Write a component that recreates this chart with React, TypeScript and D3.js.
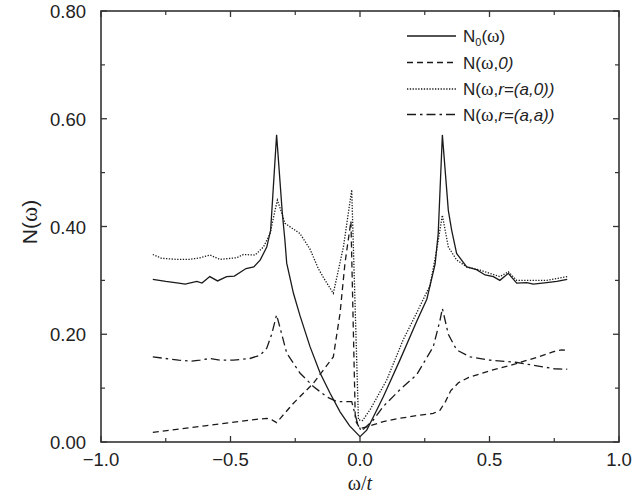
import { line, scaleLinear } from "d3";

// N0(ω) — bare density of states
const n0Omega = [-0.8, -0.75, -0.7, -0.675, -0.63, -0.61, -0.58, -0.55, -0.515, -0.485, -0.44, -0.41, -0.385, -0.36, -0.345, -0.322, -0.3, -0.29, -0.283, -0.257, -0.232, -0.193, -0.154, -0.115, -0.077, -0.04, 0, 0.026, 0.05, 0.09, 0.154, 0.22, 0.258, 0.29, 0.302, 0.318, 0.341, 0.354, 0.373, 0.412, 0.45, 0.483, 0.515, 0.54, 0.573, 0.605, 0.644, 0.669, 0.721, 0.76, 0.8];
const n0Values = [0.302, 0.298, 0.295, 0.293, 0.298, 0.295, 0.307, 0.299, 0.307, 0.308, 0.322, 0.325, 0.338, 0.362, 0.393, 0.57, 0.425, 0.375, 0.332, 0.276, 0.235, 0.177, 0.128, 0.09, 0.056, 0.03, 0.01, 0.022, 0.045, 0.084, 0.152, 0.225, 0.265, 0.33, 0.387, 0.57, 0.43, 0.393, 0.35, 0.325, 0.32, 0.31, 0.307, 0.3, 0.313, 0.295, 0.296, 0.293, 0.296, 0.298, 0.302];

// N(ω,0)
const onsiteOmega = [-0.8, -0.7, -0.6, -0.5, -0.4, -0.36, -0.34, -0.322, -0.257, -0.18, -0.103, -0.077, -0.058, -0.035, -0.018, 0, 0.026, 0.09, 0.154, 0.232, 0.283, 0.309, 0.33, 0.35, 0.38, 0.42, 0.5, 0.6, 0.682, 0.75, 0.779, 0.8];
const onsiteValues = [0.018, 0.024, 0.03, 0.036, 0.042, 0.044, 0.041, 0.036, 0.072, 0.109, 0.158, 0.239, 0.332, 0.41, 0.04, 0.025, 0.028, 0.038, 0.044, 0.05, 0.053, 0.059, 0.075, 0.095, 0.11, 0.12, 0.132, 0.145, 0.157, 0.168, 0.171, 0.17];

// N(ω,r=(a,0))
const axialOmega = [-0.8, -0.766, -0.708, -0.656, -0.618, -0.579, -0.541, -0.476, -0.45, -0.405, -0.373, -0.347, -0.328, -0.319, -0.302, -0.29, -0.232, -0.193, -0.161, -0.141, -0.103, -0.064, -0.032, -0.006, 0.01, 0.039, 0.103, 0.167, 0.219, 0.27, 0.296, 0.318, 0.341, 0.373, 0.412, 0.463, 0.502, 0.54, 0.573, 0.605, 0.656, 0.721, 0.8];
const axialValues = [0.348, 0.341, 0.339, 0.339, 0.342, 0.347, 0.339, 0.342, 0.348, 0.347, 0.362, 0.387, 0.43, 0.449, 0.425, 0.406, 0.387, 0.358, 0.322, 0.305, 0.276, 0.362, 0.468, 0.041, 0.04, 0.06, 0.115, 0.19, 0.24, 0.29, 0.356, 0.421, 0.362, 0.338, 0.325, 0.319, 0.313, 0.307, 0.316, 0.3, 0.3, 0.3, 0.307];

// N(ω,r=(a,a))
const diagOmega = [-0.8, -0.75, -0.7, -0.65, -0.618, -0.579, -0.541, -0.489, -0.425, -0.386, -0.36, -0.341, -0.322, -0.302, -0.283, -0.232, -0.18, -0.129, -0.09, -0.032, -0.01, 0.005, 0.05, 0.09, 0.154, 0.219, 0.283, 0.309, 0.318, 0.341, 0.373, 0.425, 0.5, 0.6, 0.7, 0.75, 0.8];
const diagValues = [0.158, 0.155, 0.152, 0.15, 0.152, 0.155, 0.152, 0.152, 0.155, 0.161, 0.174, 0.2, 0.236, 0.2, 0.165, 0.128, 0.103, 0.084, 0.075, 0.075, 0.035, 0.02, 0.04, 0.066, 0.097, 0.125, 0.177, 0.226, 0.248, 0.2, 0.171, 0.158, 0.152, 0.148, 0.14, 0.136, 0.135];

const xTicks = [-1, -0.5, 0, 0.5, 1];
const xTickLabels = ["\u22121.0", "\u22120.5", "0.0", "0.5", "1.0"];
const xMinorTicks = [-0.75, -0.25, 0.25, 0.75];
const yTicks = [0, 0.2, 0.4, 0.6, 0.8];
const yTickLabels = ["0.00", "0.20", "0.40", "0.60", "0.80"];
const yMinorTicks = [0.1, 0.3, 0.5, 0.7];

const W = 638;
const H = 496;
const margin = { left: 101, right: 19, top: 11, bottom: 54 };
const ink = "#1a1a1a";
const sans = "'Liberation Sans', Arial, Helvetica, sans-serif";
const serif = "'Liberation Serif', 'Times New Roman', serif";

type Series = { key: string; xs: number[]; ys: number[]; dash: string | null };

const series: Series[] = [
  { key: "n0", xs: n0Omega, ys: n0Values, dash: null },
  { key: "onsite", xs: onsiteOmega, ys: onsiteValues, dash: "6,4" },
  { key: "axial", xs: axialOmega, ys: axialValues, dash: "1.3,1.5" },
  { key: "diag", xs: diagOmega, ys: diagValues, dash: "9,4,2.5,4" },
];

function LegendLabel({ idx }: { idx: number }) {
  const omega = <tspan fontFamily={serif} fontSize={19}>ω</tspan>;
  if (idx === 0)
    return (
      <>
        N<tspan fontSize={11} dy={4}>0</tspan>
        <tspan dy={-4}>(</tspan>
        {omega})
      </>
    );
  if (idx === 1)
    return (
      <>
        N({omega},<tspan fontStyle="italic">0)</tspan>
      </>
    );
  if (idx === 2)
    return (
      <>
        N({omega},<tspan fontStyle="italic">r=(a,0))</tspan>
      </>
    );
  return (
    <>
      N({omega},<tspan fontStyle="italic">r=(a,a))</tspan>
    </>
  );
}

export default function App() {
  const x = scaleLinear().domain([-1, 1]).range([margin.left, W - margin.right]);
  const y = scaleLinear().domain([0, 0.8]).range([H - margin.bottom, margin.top]);
  const [x0, x1] = x.range();
  const [y0, y1] = y.range();

  const path = (xs: number[], ys: number[]) =>
    line<number>()
      .x((_, i) => x(xs[i]))
      .y((v) => y(v))(ys) ?? "";

  const legendRows = [36, 62.5, 89, 114.5];

  return (
    <svg width={W} height={H} style={{ position: "absolute", left: 0, top: 0, background: "#fff" }}>
      <rect width={W} height={H} fill="#fff" />

      {series.map((s) => (
        <path
          key={s.key}
          d={path(s.xs, s.ys)}
          fill="none"
          stroke={ink}
          strokeWidth={1.3}
          strokeDasharray={s.dash ?? undefined}
          strokeLinejoin="miter"
        />
      ))}

      {/* frame with inward ticks on all four sides */}
      <rect x={x0} y={y1} width={x1 - x0} height={y0 - y1} fill="none" stroke="#333" strokeWidth={1.6} />
      {xTicks.map((t) => (
        <g key={`xt${t}`} stroke="#333" strokeWidth={1.3}>
          <line x1={x(t)} x2={x(t)} y1={y0} y2={y0 - 6} />
          <line x1={x(t)} x2={x(t)} y1={y1} y2={y1 + 6} />
        </g>
      ))}
      {xMinorTicks.map((t) => (
        <g key={`xm${t}`} stroke="#333" strokeWidth={1.2}>
          <line x1={x(t)} x2={x(t)} y1={y0} y2={y0 - 4} />
          <line x1={x(t)} x2={x(t)} y1={y1} y2={y1 + 4} />
        </g>
      ))}
      {yTicks.map((t) => (
        <g key={`yt${t}`} stroke="#333" strokeWidth={1.3}>
          <line x1={x0} x2={x0 + 6} y1={y(t)} y2={y(t)} />
          <line x1={x1} x2={x1 - 6} y1={y(t)} y2={y(t)} />
        </g>
      ))}
      {yMinorTicks.map((t) => (
        <g key={`ym${t}`} stroke="#333" strokeWidth={1.2}>
          <line x1={x0} x2={x0 + 4} y1={y(t)} y2={y(t)} />
          <line x1={x1} x2={x1 - 4} y1={y(t)} y2={y(t)} />
        </g>
      ))}

      {/* tick labels */}
      <g fontFamily={sans} fontSize={18.5} fill="#222">
        {xTicks.map((t, i) => (
          <text key={`xl${t}`} x={x(t)} y={466} textAnchor="middle">
            {xTickLabels[i]}
          </text>
        ))}
        {yTicks.map((t, i) => (
          <text key={`yl${t}`} x={86} y={y(t) + 7} textAnchor="end">
            {yTickLabels[i]}
          </text>
        ))}
      </g>

      {/* axis titles */}
      <text x={x(0)} y={490} textAnchor="middle" fontFamily={serif} fontSize={20} fill="#222">
        ω/<tspan fontStyle="italic">t</tspan>
      </text>
      <text
        transform="translate(37,222) rotate(-90)"
        textAnchor="middle"
        fontFamily={sans}
        fontSize={21}
        fill="#222"
      >
        N(<tspan fontFamily={serif} fontSize={23}>ω</tspan>)
      </text>

      {/* legend */}
      <g fontFamily={sans} fontSize={17} fill="#222">
        {series.map((s, i) => (
          <g key={`lg${s.key}`}>
            <line
              x1={407}
              x2={456}
              y1={legendRows[i]}
              y2={legendRows[i]}
              stroke={ink}
              strokeWidth={1.3}
              strokeDasharray={s.dash ?? undefined}
            />
            <text x={463} y={legendRows[i] + 6}>
              <LegendLabel idx={i} />
            </text>
          </g>
        ))}
      </g>
    </svg>
  );
}
